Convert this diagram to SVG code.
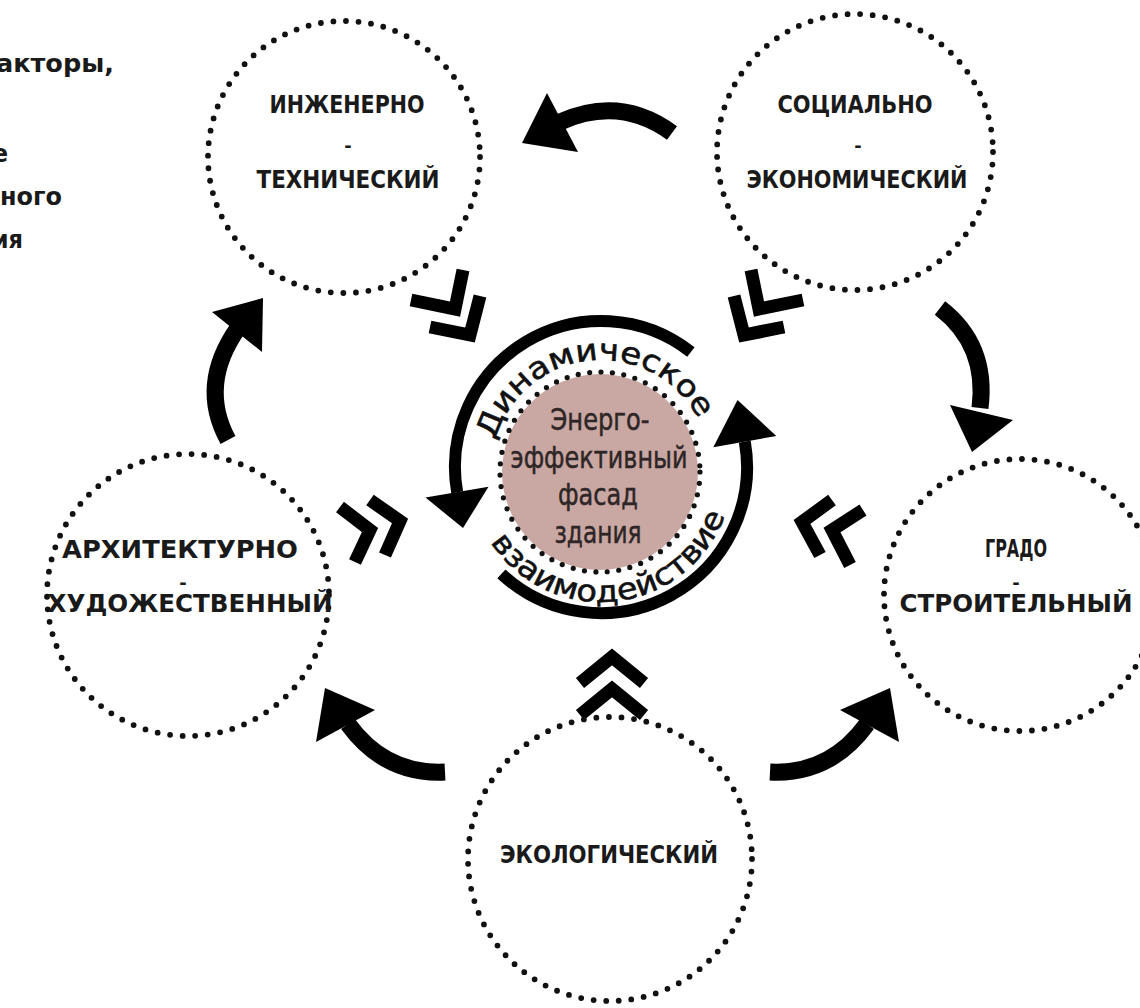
<svg xmlns="http://www.w3.org/2000/svg" width="1140" height="1008" viewBox="0 0 1140 1008">
<defs>
<style>
.dot{fill:none;stroke:#111;stroke-width:5.8;stroke-linecap:round;stroke-dasharray:0 12.6}
.dotc{fill:none;stroke:#111;stroke-width:5.2;stroke-linecap:round;stroke-dasharray:0 11.5}
.lbl{font-family:"DejaVu Sans Condensed","DejaVu Sans",sans-serif;font-weight:bold;font-size:24px;fill:#1a1a1a;text-anchor:middle}
.dash{font-family:"DejaVu Sans",sans-serif;font-weight:bold;font-size:18px;fill:#1a1a1a;text-anchor:middle}
.para{font-family:"DejaVu Sans Condensed","DejaVu Sans",sans-serif;font-weight:bold;font-size:25px;fill:#1a1a1a}
.inner{font-family:"DejaVu Sans",sans-serif;font-size:30px;fill:#2e2626;stroke:#2e2626;stroke-width:0.5;text-anchor:middle}
.ring{font-family:"DejaVu Sans",sans-serif;font-size:30px;fill:#111;stroke:#111;stroke-width:0.6;text-anchor:middle}
.body{fill:none;stroke:#000;stroke-width:17}
.chev{fill:none;stroke:#000;stroke-width:13;stroke-linejoin:miter;stroke-miterlimit:10}
.ringarc{fill:none;stroke:#000;stroke-width:12}
.head{fill:#000}
</style>
<path id="topArc" d="M491,470 A110,110 0 0 1 711,470"/>
<path id="botArc" d="M469,470 A132,132 0 0 0 733,470"/>
</defs>

<g id="paragraph">
<text class="para" x="-4" y="72" textLength="118" lengthAdjust="spacingAndGlyphs">акторы,</text>
<text class="para" x="8" y="162" text-anchor="end">е</text>
<text class="para" x="0" y="205" textLength="62" lengthAdjust="spacingAndGlyphs">ного</text>
<text class="para" x="23" y="248" text-anchor="end">ия</text>
</g>

<g id="connectors">
<path class="body" d="M672,133 Q620,95 560,122"/>
<polygon class="head" points="547,93 578,152 522,143"/>
<path class="body" d="M940,308 Q988,345 980,408"/>
<polygon class="head" points="950,405 1013,420 972,452"/>
<path class="body" d="M228,440 Q198,385 238,328"/>
<polygon class="head" points="212,312 263,298 262,352"/>
<path class="body" d="M445,772 Q385,775 348,724"/>
<polygon class="head" points="325,688 375,710 316,742"/>
<path class="body" d="M770,772 Q830,775 867,724"/>
<polygon class="head" points="890,688 840,710 899,742"/>
<polyline class="chev" points="411,300 455,309 463,270"/>
<polyline class="chev" points="430,327 470,335 480,296"/>
<polyline class="chev" points="803,300 759,309 751,270"/>
<polyline class="chev" points="784,327 744,335 734,296"/>
<polyline class="chev" points="340,507 370,530 355,562"/>
<polyline class="chev" points="370,500 400,521 385,555"/>
<polyline class="chev" points="832,500 802,522 820,555"/>
<polyline class="chev" points="863,510 832,530 850,565"/>
<polyline class="chev" points="580,683 612,657 644,683"/>
<polyline class="chev" points="580,715 612,689 644,715"/>
<path class="ringarc" d="M690.9,352 A146,146 0 0 0 457.2,492.4"/>
<polygon class="head" points="425.5,497.6 488.5,486.8 463,528"/>
<path class="ringarc" d="M501.4,573.8 A146,146 0 0 0 744.8,441.6"/>
<polygon class="head" points="713.3,447.2 776.3,436 737.5,400"/>
</g>

<g id="center">
<circle cx="600" cy="472" r="98" fill="#c9a7a2"/>
<circle class="dotc" cx="600" cy="472" r="100"/>
<text class="inner" x="600" y="430" textLength="99" lengthAdjust="spacingAndGlyphs">Энерго-</text>
<text class="inner" x="599" y="468" textLength="177" lengthAdjust="spacingAndGlyphs">эффективный</text>
<text class="inner" x="598" y="505" textLength="80" lengthAdjust="spacingAndGlyphs">фасад</text>
<text class="inner" x="598" y="543" textLength="87" lengthAdjust="spacingAndGlyphs">здания</text>
<text class="ring"><textPath href="#topArc" startOffset="46.7%" textLength="262" lengthAdjust="spacingAndGlyphs">Динамическое</textPath></text>
<text class="ring"><textPath href="#botArc" startOffset="53.6%" textLength="292" lengthAdjust="spacingAndGlyphs">взаимодействие</textPath></text>
</g>

<g id="node-engineering">
<circle class="dot" cx="344" cy="157" r="136"/>
<text class="lbl" x="347" y="113" textLength="155" lengthAdjust="spacingAndGlyphs">ИНЖЕНЕРНО</text>
<text class="dash" x="348" y="152">-</text>
<text class="lbl" x="348" y="188" textLength="183" lengthAdjust="spacingAndGlyphs">ТЕХНИЧЕСКИЙ</text>
</g>

<g id="node-social">
<circle class="dot" cx="855" cy="152" r="138"/>
<text class="lbl" x="855" y="113" textLength="155" lengthAdjust="spacingAndGlyphs">СОЦИАЛЬНО</text>
<text class="dash" x="858" y="152">-</text>
<text class="lbl" x="857" y="188" textLength="221" lengthAdjust="spacingAndGlyphs">ЭКОНОМИЧЕСКИЙ</text>
</g>

<g id="node-architecture">
<circle class="dot" cx="188" cy="595" r="141"/>
<text class="lbl" x="180" y="558" textLength="236" lengthAdjust="spacingAndGlyphs">АРХИТЕКТУРНО</text>
<text class="dash" x="183" y="589">-</text>
<text class="lbl" x="190" y="612" textLength="285" lengthAdjust="spacingAndGlyphs">ХУДОЖЕСТВЕННЫЙ</text>
</g>

<g id="node-urban">
<circle class="dot" cx="1020" cy="595" r="136"/>
<text class="lbl" x="1016" y="557" textLength="62" lengthAdjust="spacingAndGlyphs">ГРАДО</text>
<text class="dash" x="1016" y="589">-</text>
<text class="lbl" x="1016" y="612" textLength="233" lengthAdjust="spacingAndGlyphs">СТРОИТЕЛЬНЫЙ</text>
</g>

<g id="node-ecology">
<circle class="dot" cx="610" cy="859" r="142"/>
<text class="lbl" x="609" y="863" textLength="218" lengthAdjust="spacingAndGlyphs">ЭКОЛОГИЧЕСКИЙ</text>
</g>
</svg>
